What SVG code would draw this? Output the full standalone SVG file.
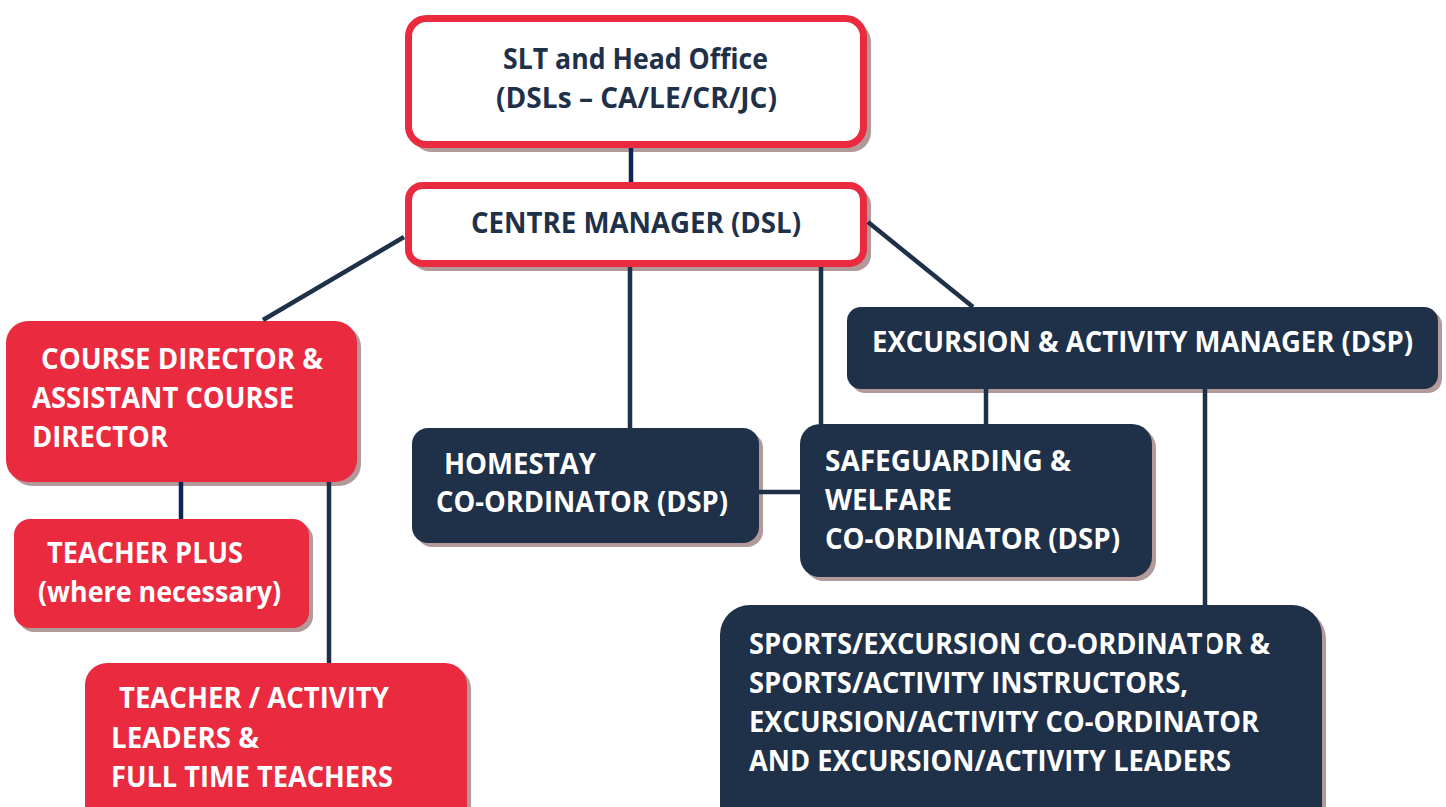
<svg xmlns="http://www.w3.org/2000/svg" width="1446" height="807" viewBox="0 0 1446 807">
  <style>
    .shadow { fill: #b39a9a; }
    .box-white { fill: #ffffff; stroke: #ea2a3e; stroke-width: 7; }
    .box-red { fill: #ea2a3e; }
    .box-navy { fill: #1f3049; }
    .t { font-family: "Open Sans", "Liberation Sans", sans-serif; font-weight: 700; font-size: 28px; }
    .t-dark { fill: #1f3049; }
    .t-light { fill: #ffffff; }
    .link { stroke: #1f3049; stroke-width: 4.5; fill: none; }
    .link-blue { stroke: #0f2558; stroke-width: 4.5; fill: none; }
  </style>
  <rect width="1446" height="807" fill="#ffffff"/>

  <!-- SLT and Head Office -->
  <g id="slt">
    <rect class="shadow" x="412" y="22" width="459" height="130" rx="20"/>
    <rect class="box-white" x="408.5" y="18.5" width="455" height="126" rx="18"/>
    <text class="t t-dark" x="503" y="69" textLength="265" lengthAdjust="spacingAndGlyphs">SLT and Head Office</text>
    <text class="t t-dark" x="496" y="108" textLength="281" lengthAdjust="spacingAndGlyphs">(DSLs – CA/LE/CR/JC)</text>
  </g>

  <!-- Centre Manager -->
  <g id="centre-manager">
    <rect class="shadow" x="412" y="189" width="459" height="82" rx="16"/>
    <rect class="box-white" x="408.5" y="185.5" width="455" height="78" rx="14"/>
    <text class="t t-dark" x="471" y="233" textLength="330" lengthAdjust="spacingAndGlyphs">CENTRE MANAGER (DSL)</text>
  </g>

  <!-- Course Director -->
  <g id="course-director">
    <rect class="shadow" x="10" y="325" width="351" height="161" rx="22"/>
    <rect class="box-red" x="6" y="321" width="351" height="161" rx="22"/>
    <text class="t t-light" x="41" y="369" textLength="282" lengthAdjust="spacingAndGlyphs">COURSE DIRECTOR &amp;</text>
    <text class="t t-light" x="32" y="408" textLength="262" lengthAdjust="spacingAndGlyphs">ASSISTANT COURSE</text>
    <text class="t t-light" x="32" y="447" textLength="136" lengthAdjust="spacingAndGlyphs">DIRECTOR</text>
  </g>

  <!-- Teacher Plus -->
  <g id="teacher-plus">
    <rect class="shadow" x="18" y="523" width="295" height="109" rx="16"/>
    <rect class="box-red" x="14" y="519" width="295" height="109" rx="16"/>
    <text class="t t-light" x="47" y="563" textLength="196" lengthAdjust="spacingAndGlyphs">TEACHER PLUS</text>
    <text class="t t-light" x="38" y="602" textLength="243" lengthAdjust="spacingAndGlyphs">(where necessary)</text>
  </g>

  <!-- Teacher / Activity Leaders -->
  <g id="teacher-activity">
    <rect class="shadow" x="89" y="667" width="382" height="180" rx="22"/>
    <rect class="box-red" x="85" y="663" width="382" height="180" rx="22"/>
    <text class="t t-light" x="119" y="708" textLength="270" lengthAdjust="spacingAndGlyphs">TEACHER / ACTIVITY</text>
    <text class="t t-light" x="111" y="748" textLength="148" lengthAdjust="spacingAndGlyphs">LEADERS &amp;</text>
    <text class="t t-light" x="111" y="787" textLength="282" lengthAdjust="spacingAndGlyphs">FULL TIME TEACHERS</text>
  </g>

  <!-- Homestay Co-ordinator -->
  <g id="homestay">
    <rect class="shadow" x="416" y="432" width="347" height="115" rx="16"/>
    <rect class="box-navy" x="412" y="428" width="347" height="115" rx="16"/>
    <text class="t t-light" x="444" y="474" textLength="152" lengthAdjust="spacingAndGlyphs">HOMESTAY</text>
    <text class="t t-light" x="436" y="512" textLength="292" lengthAdjust="spacingAndGlyphs">CO-ORDINATOR (DSP)</text>
  </g>

  <!-- Excursion & Activity Manager -->
  <g id="excursion-manager">
    <rect class="shadow" x="851" y="311" width="591" height="82" rx="14"/>
    <rect class="box-navy" x="847" y="307" width="591" height="82" rx="14"/>
    <text class="t t-light" x="872" y="352" textLength="541" lengthAdjust="spacingAndGlyphs">EXCURSION &amp; ACTIVITY MANAGER (DSP)</text>
  </g>

  <!-- Safeguarding & Welfare Co-ordinator -->
  <g id="safeguarding">
    <rect class="shadow" x="804" y="428" width="352" height="153" rx="20"/>
    <rect class="box-navy" x="800" y="424" width="352" height="153" rx="20"/>
    <text class="t t-light" x="825" y="471" textLength="246" lengthAdjust="spacingAndGlyphs">SAFEGUARDING &amp;</text>
    <text class="t t-light" x="825" y="510" textLength="127" lengthAdjust="spacingAndGlyphs">WELFARE</text>
    <text class="t t-light" x="825" y="549" textLength="295" lengthAdjust="spacingAndGlyphs">CO-ORDINATOR (DSP)</text>
  </g>

  <!-- Sports / Excursion team -->
  <g id="sports-excursion">
    <rect class="shadow" x="724" y="609" width="602" height="240" rx="30"/>
    <rect class="box-navy" x="720" y="605" width="602" height="240" rx="30"/>
    <text class="t t-light" x="749" y="654" textLength="521" lengthAdjust="spacingAndGlyphs">SPORTS/EXCURSION CO-ORDINATOR &amp;</text>
    <text class="t t-light" x="749" y="693" textLength="439" lengthAdjust="spacingAndGlyphs">SPORTS/ACTIVITY INSTRUCTORS,</text>
    <text class="t t-light" x="749" y="732" textLength="510" lengthAdjust="spacingAndGlyphs">EXCURSION/ACTIVITY CO-ORDINATOR</text>
    <text class="t t-light" x="749" y="771" textLength="482" lengthAdjust="spacingAndGlyphs">AND EXCURSION/ACTIVITY LEADERS</text>
  </g>

  <!-- Reporting lines -->
  <g id="connectors">
    <line class="link-blue" x1="631" y1="148" x2="631" y2="182"/>
    <line class="link" x1="404" y1="237" x2="263" y2="320"/>
    <line class="link" x1="630" y1="267" x2="630" y2="428"/>
    <line class="link" x1="821" y1="267" x2="821" y2="424"/>
    <line class="link" x1="868" y1="222" x2="973" y2="307"/>
    <line class="link" x1="986" y1="389" x2="986" y2="424"/>
    <line class="link" x1="1205" y1="389" x2="1205" y2="658"/>
    <line class="link" x1="759" y1="492" x2="800" y2="492"/>
    <line class="link-blue" x1="181" y1="482" x2="181" y2="519"/>
    <line class="link" x1="329" y1="482" x2="329" y2="663"/>
  </g>
</svg>
